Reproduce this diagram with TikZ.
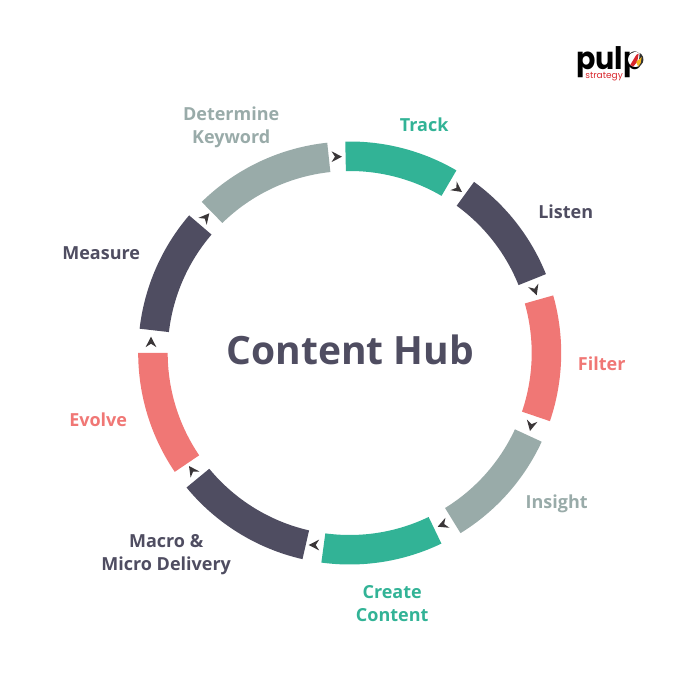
\documentclass[tikz,border=0pt]{standalone}
\usepackage{fontspec}
\setmainfont{Open Sans}
\newfontfamily\logofont{Poppins}
\definecolor{teal}{HTML}{32B396}
\definecolor{slate}{HTML}{4F4D61}
\definecolor{salmon}{HTML}{F07775}
\definecolor{sage}{HTML}{99ABA9}
\definecolor{tipc}{HTML}{3A3638}
\definecolor{logored}{HTML}{D8262C}
\definecolor{logoyel}{HTML}{F5B81F}
\newcommand{\ringseg}[3]{\fill[#1] (#2:211.5pt) arc[start angle=#2,end angle=#3,radius=211.5pt] -- (#3:182pt) arc[start angle=#3,end angle=#2,radius=182pt] -- cycle;}
\newcommand{\flowtip}[3]{\fill[tipc,shift={(#1-349.7pt,353pt-#2)},rotate=#3] (0,0) -- (-10.5pt,5.4pt) -- (-7pt,0) -- (-10.5pt,-5.4pt) -- cycle;}
\tikzset{
  lbl/.style={font=\bfseries\fontsize{18}{22.5}\selectfont,align=center,inner sep=0pt},
}
\begin{document}
\begin{tikzpicture}[x=1pt,y=1pt]
\useasboundingbox (-349.7,-335) rectangle (338.3,353);
% ring is centred on the origin: (349.7,353) in image pixels
\ringseg{teal}{91.2}{59.7}
\ringseg{slate}{54}{21.9}
\ringseg{salmon}{15.8}{-18.8}
\ringseg{sage}{-24.8}{-58.4}
\ringseg{teal}{-64.3}{-97.7}
\ringseg{slate}{-102.9}{-140.5}
\ringseg{salmon}{214.2}{180}
\ringseg{slate}{173.4}{139.4}
\ringseg{sage}{134.4}{96.1}
% arrowheads: tip position in image pixels, direction
\flowtip{342pt}{156.7pt}{0}
\flowtip{462pt}{192pt}{-36}
\flowtip{536.7pt}{295.3pt}{-71}
\flowtip{530pt}{431pt}{-102}
\flowtip{437.7pt}{526.7pt}{202}
\flowtip{308.7pt}{545pt}{180}
\flowtip{189pt}{466pt}{125}
\flowtip{151pt}{336.7pt}{90}
\flowtip{209.3pt}{213.3pt}{50}
% labels
\node[font=\bfseries\fontsize{39}{44}\selectfont,text=slate,inner sep=0pt] (hub) at (0.5,3) {Content Hub};
\node[lbl,text=teal] (track) at (74.5,228) {Track};
\node[lbl,text=slate] (listen) at (216,141) {Listen};
\node[lbl,text=salmon] (filter) at (252,-11) {Filter};
\node[lbl,text=sage] (insight) at (207,-150.5) {Insight};
\node[lbl,text=teal] (create) at (42.5,-250.5) {Create\\Content};
\node[lbl,text=slate] (macro) at (-183.5,-201.5) {Macro \&\\Micro Delivery};
\node[lbl,text=salmon] (evolve) at (-251.5,-67) {Evolve};
\node[lbl,text=slate] (measure) at (-248.5,100) {Measure};
\node[lbl,text=sage] (determine) at (-118.5,225.5) {Determine\\Keyword};
% logo
\node[font=\logofont\bfseries\fontsize{31}{31}\selectfont,text=black,anchor=base west,inner sep=0pt,xscale=0.92] (pulp) at (226.5,283) {pulp};
\node[font=\logofont\fontsize{9}{9}\selectfont,text=logored,anchor=base west,inner sep=0pt] (strat) at (235.5,274.5) {strategy};
\fill[white] (285.8,293.5) circle (7.5);
\fill[black!80] (285.8,293.5) ++(3,-7) arc[start angle=-70,end angle=60,radius=7.5] -- cycle;
\fill[logored] (280.5,288) -- (286.5,298) -- (289,299.5) -- (287.5,291) -- (283.5,286.5) -- cycle;
\fill[logoyel] (286.5,291) -- (292,296) -- (291,290) -- (288.5,286.5) -- cycle;
\end{tikzpicture}
\end{document}
